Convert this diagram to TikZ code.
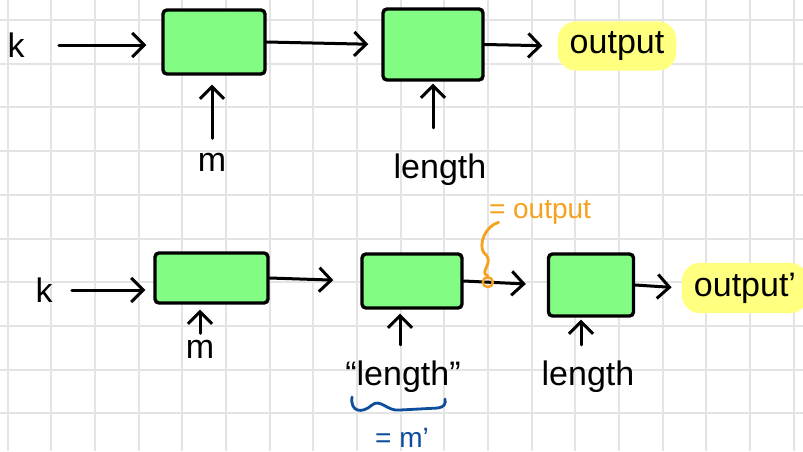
\documentclass[tikz,border=0pt]{standalone}
\usepackage{fontspec}
\setmainfont{Liberation Sans}
\usetikzlibrary{arrows.meta}
\definecolor{gridgray}{HTML}{E4E4E4}
\definecolor{boxgreen}{HTML}{82FC82}
\definecolor{hlyellow}{HTML}{FFFF80}
\definecolor{noteorange}{HTML}{F5A11C}
\definecolor{noteblue}{HTML}{0E4C9C}
\begin{document}
\begin{tikzpicture}[x=0.5pt,y=-0.5pt,
  gridline/.style={draw=gridgray,line width=1pt},
  blk/.style={draw=black,fill=boxgreen,line width=1.7pt,rounded corners=2pt,inner sep=0pt},
  arr/.style={-{Straight Barb[length=6pt,width=12pt,line width=1.5pt]},line width=1.5pt,line cap=round},
  lbl/.style={font=\fontsize{17}{20}\selectfont,inner sep=1pt},
  hl/.style={lbl,fill=hlyellow,rounded corners=9pt,inner xsep=6pt,inner ysep=5pt},
  odot/.style={circle,draw=noteorange,line width=1.2pt,fill=none,minimum size=5pt,inner sep=0pt},
  note/.style={font=\fontsize{14}{16}\selectfont,inner sep=1pt}]
\useasboundingbox (0,0) rectangle (803,451);
\fill[white] (0,0) rectangle (803,451);
% grid paper
\foreach \i in {0,...,18} \draw[gridline] ({7.8+43.65*\i},0) -- ({7.8+43.65*\i},451);
\foreach \j in {0,...,9} \draw[gridline] (0,{20+43.7*\j}) -- (803,{20+43.7*\j});

% ---------- top row ----------
\node[lbl] (k1) at (16,45) {k};
\node[blk,minimum width=51pt,minimum height=32pt] (b1) at (214,42) {};
\node[blk,minimum width=50pt,minimum height=35.5pt] (b2) at (433,44.5) {};
\node[hl] (out1) at (617,46) {output};
\node[lbl] (m1) at (212,162) {m};
\node[lbl] (len1) at (440,170) {length};

\draw[arr,shorten <=16pt,shorten >=7.5pt] (k1.east) -- (k1.east -| b1.west);
\draw[arr,shorten >=6.5pt] (b1.east) -- (b2.west);
\draw[arr,shorten >=7.5pt] (b2.east) -- (out1.west);
\draw[arr,shorten <=6pt,shorten >=4.5pt] (m1.north) -- (m1.north |- b1.south);
\draw[arr,shorten <=12pt,shorten >=1pt] (len1.north -| b2.south) -- (b2.south);

% ---------- bottom row ----------
\node[lbl] (k2) at (44,290) {k};
\node[blk,minimum width=56.5pt,minimum height=25pt] (b3) at (211.5,278) {};
\node[blk,minimum width=50pt,minimum height=27pt] (b4) at (412,281) {};
\node[blk,minimum width=42.5pt,minimum height=31pt] (b5) at (591,285) {};
\node[hl] (out2) at (745,288) {output'};
\node[lbl] (m2) at (200,349) {m};
\node[lbl] (len2) at (403,377) {“length”};
\node[lbl] (len3) at (588,377) {length};
\node[note,text=noteorange] (eqout) at (540,212) {= output};
\node[note,text=noteblue] (eqm) at (402,438) {= m'};

\draw[arr,shorten <=8.5pt,shorten >=4pt] (k2.east) -- (k2.east -| b3.west);
\draw[arr,shorten <=2pt,shorten >=2.5pt] (m2.north) -- (m2.north |- b3.south);
\draw[arr,shorten >=13.5pt] (b3.east) -- (b4.west);
\draw[arr,shorten >=10.5pt] (b4.east) -- node[pos=0.29,odot] (dot) {} (b5.west);
\draw[arr,shorten >=5pt] (b5.east) -- (out2.west);
\draw[arr,shorten <=7pt,shorten >=2pt] (len2.north -| m2.north -| 400,0) -- (400,0 |- b4.south);
\draw[arr,shorten <=7pt,shorten >=1pt] (len3.north -| b5.south) ++(-10,0) -- ([xshift=-5pt]b5.south);

% orange squiggle from the dot up to "= output"
\draw[noteorange,line width=1.4pt,line cap=round]
  (dot.north) .. controls (478,272) and (496,262) .. (484,253)
  .. controls (478,245) and (485,226) .. ([xshift=6pt,yshift=2pt]eqout.south west);

% blue brace under "length"
\draw[noteblue,line width=1.4pt,line cap=round]
  (352,397) .. controls (350,412) and (362,414) .. (372,405)
  .. controls (380,398) and (388,412) .. (400,410)
  -- (438,408) .. controls (444,407) and (446,404) .. (445,399);
\end{tikzpicture}
\end{document}
